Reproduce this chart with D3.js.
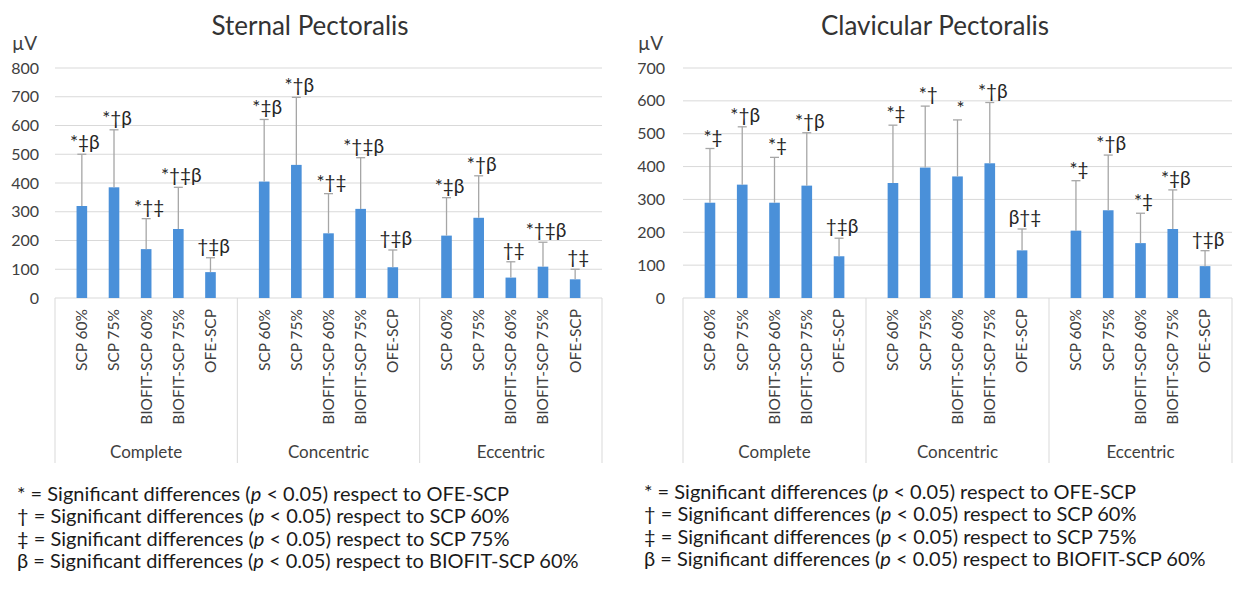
<!DOCTYPE html>
<html>
<head>
<meta charset="utf-8">
<script src="https://cdn.jsdelivr.net/npm/d3@7"></script>
<style>
  body { margin: 0; background: #fff; }
  text { font-family: Lato, "Open Sans", sans-serif; }
</style>
</head>
<body>
<div id="content"></div>
<script>
// categories
const groups = ["Complete", "Concentric", "Eccentric"];
const conditions = ["SCP 60%", "SCP 75%", "BIOFIT-SCP 60%", "BIOFIT-SCP 75%", "OFE-SCP"];

// Sternal pectoralis (mean, SD, significance marks), order: group x condition
const sternalMean = [320, 385, 170, 240, 90, 405, 463, 225, 310, 107, 217, 279, 71, 109, 65];
const sternalSD = [180, 200, 106, 145, 50, 216, 235, 138, 178, 60, 132, 146, 55, 85, 35];
const sternalMarks = ["*‡β", "*†β", "*†‡", "*†‡β", "†‡β", "*‡β", "*†β", "*†‡", "*†‡β", "†‡β", "*‡β", "*†β", "†‡", "*†‡β", "†‡"];

// Clavicular pectoralis
const clavMean = [290, 345, 290, 342, 127, 350, 397, 370, 410, 145, 205, 267, 167, 210, 97];
const clavSD = [165, 176, 138, 161, 55, 176, 187, 172, 185, 65, 152, 168, 91, 119, 47];
const clavMarks = ["*‡", "*†β", "*‡", "*†β", "†‡β", "*‡", "*†", "*", "*†β", "β†‡", "*‡", "*†β", "*‡", "*‡β", "†‡β"];

const sternalTicks = [0, 100, 200, 300, 400, 500, 600, 700, 800];
const clavTicks = [0, 100, 200, 300, 400, 500, 600, 700];

const legendLines = [
  ["*", "OFE-SCP"],
  ["†", "SCP 60%"],
  ["‡", "SCP 75%"],
  ["β", "BIOFIT-SCP 60%"]
];

const W = 1233, H = 589;
const svg = d3.select("#content").append("svg")
  .attr("width", W).attr("height", H);

function barChart(opt) {
  const { title, mean, sd, marks, ticks, left, right, labelX, titleX, legendX, legendY } = opt;
  const y = d3.scaleLinear().domain([0, d3.max(ticks)]).range([298, 68]);
  const x0 = d3.scaleBand().domain(groups).range([left, right]);
  const x1 = d3.scaleBand().domain(conditions).range([0, x0.bandwidth()]).padding(0.67);

  const rows = [];
  groups.forEach((g, gi) => conditions.forEach((c, ci) => {
    const i = gi * conditions.length + ci;
    rows.push({ g, c, v: mean[i], sd: sd[i], m: marks[i] });
  }));
  const cx = d => x0(d.g) + x1(d.c) + x1.bandwidth() / 2;

  const g = svg.append("g");

  // gridlines
  g.selectAll(".grid").data(ticks.slice(1)).join("line")
    .attr("x1", left).attr("x2", right)
    .attr("y1", d => y(d)).attr("y2", d => y(d))
    .attr("stroke", "#d9d9d9").attr("stroke-width", 1);

  // y tick labels
  const yAxis = g.append("g").attr("transform", `translate(${labelX},0)`)
    .call(d3.axisLeft(y).tickValues(ticks).tickSize(0).tickPadding(0));
  yAxis.select(".domain").remove();
  yAxis.selectAll("text").attr("font-family", "Lato, sans-serif")
    .attr("font-size", 16).attr("fill", "#404040");

  // unit
  g.append("text").attr("x", labelX - 27).attr("y", 50)
    .attr("font-size", 19).attr("fill", "#404040").text("µV");

  // title
  g.append("text").attr("x", titleX).attr("y", 35).attr("text-anchor", "middle")
    .attr("font-size", 26).attr("fill", "#333").text(title);

  // category box
  g.append("line").attr("x1", left).attr("x2", right).attr("y1", y(0)).attr("y2", y(0))
    .attr("stroke", "#d9d9d9");
  const seps = groups.map(d => x0(d)).concat([right]);
  g.selectAll(".sep").data(seps).join("line")
    .attr("x1", d => d).attr("x2", d => d).attr("y1", y(0)).attr("y2", 463)
    .attr("stroke", "#d9d9d9");

  // bars
  g.selectAll(".bar").data(rows).join("rect")
    .attr("x", d => x0(d.g) + x1(d.c)).attr("width", x1.bandwidth())
    .attr("y", d => y(d.v)).attr("height", d => y(0) - y(d.v))
    .attr("fill", "#4a90d9");

  // error bars
  g.selectAll(".err").data(rows).join("line")
    .attr("x1", cx).attr("x2", cx)
    .attr("y1", d => y(d.v)).attr("y2", d => y(d.v + d.sd))
    .attr("stroke", "#a6a6a6").attr("stroke-width", 1.3);
  g.selectAll(".cap").data(rows).join("line")
    .attr("x1", d => cx(d) - 4.5).attr("x2", d => cx(d) + 4.5)
    .attr("y1", d => y(d.v + d.sd)).attr("y2", d => y(d.v + d.sd))
    .attr("stroke", "#a6a6a6").attr("stroke-width", 1.3);

  // significance marks
  g.selectAll(".mark").data(rows).join("text")
    .attr("x", d => cx(d) + 3).attr("y", d => y(d.v + d.sd) - 5)
    .attr("text-anchor", "middle").attr("font-size", 19).attr("fill", "#262626")
    .text(d => d.m);

  // category labels (rotated)
  g.selectAll(".cat").data(rows).join("text")
    .attr("transform", d => `translate(${cx(d)},309) rotate(-90)`)
    .attr("text-anchor", "end").attr("dy", "0.35em")
    .attr("font-size", 15.5).attr("fill", "#404040")
    .text(d => d.c);

  // group labels
  g.selectAll(".grp").data(groups).join("text")
    .attr("x", d => x0(d) + x0.bandwidth() / 2).attr("y", 458)
    .attr("text-anchor", "middle").attr("font-size", 17).attr("fill", "#404040")
    .text(d => d);

  // legend
  const lg = g.selectAll(".leg").data(legendLines).join("text")
    .attr("x", legendX).attr("y", (d, i) => legendY + i * 22.3)
    .attr("font-size", 20).attr("fill", "#1a1a1a");
  lg.append("tspan").text(d => d[0] + " = Significant differences (");
  lg.append("tspan").attr("font-style", "italic").text("p");
  lg.append("tspan").text(d => " < 0.05) respect to " + d[1]);
}

barChart({
  title: "Sternal Pectoralis", mean: sternalMean, sd: sternalSD, marks: sternalMarks,
  ticks: sternalTicks, left: 55, right: 602, labelX: 39, titleX: 310,
  legendX: 17, legendY: 501
});
barChart({
  title: "Clavicular Pectoralis", mean: clavMean, sd: clavSD, marks: clavMarks,
  ticks: clavTicks, left: 683, right: 1232, labelX: 665, titleX: 935,
  legendX: 644, legendY: 499
});
</script>
</body>
</html>
